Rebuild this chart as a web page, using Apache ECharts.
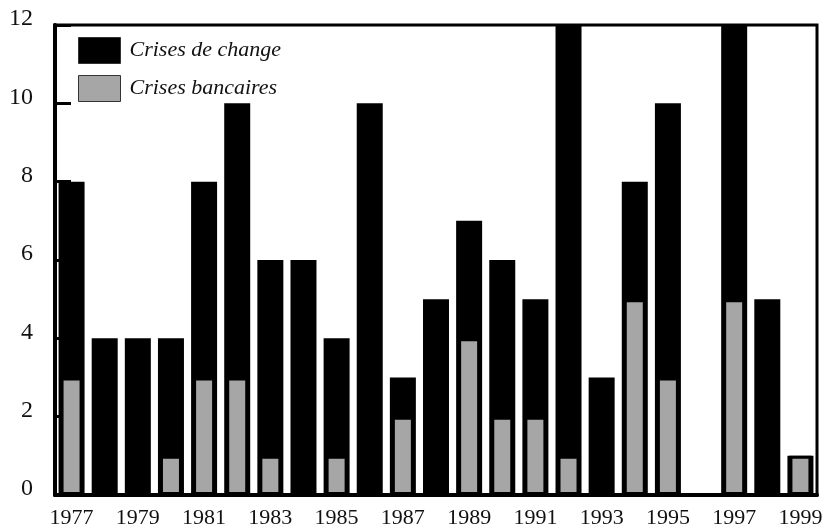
<!DOCTYPE html>
<html>
<head>
<meta charset="utf-8">
<script src="https://cdn.jsdelivr.net/npm/echarts@6/dist/echarts.min.js"></script>
<style>
  html, body { margin: 0; padding: 0; background: #fff; }
  #chart { width: 826px; height: 529px; }
</style>
</head>
<body>
<div id="chart"></div>
<script>
// années
const years = ['1977', '1978', '1979', '1980', '1981', '1982', '1983', '1984', '1985', '1986', '1987', '1988',
  '1989', '1990', '1991', '1992', '1993', '1994', '1995', '1996', '1997', '1998', '1999'];
// nombre total de crises (hauteur de la barre noire)
const crisesChange = [8, 4, 4, 4, 8, 10, 6, 6, 4, 10, 3, 5, 7, 6, 5, 12, 3, 8, 10, 0, 12, 5, 1];
// crises bancaires (barre grise)
const crisesBancaires = [3, 0, 0, 1, 3, 3, 1, 0, 1, 0, 2, 0, 4, 2, 2, 1, 0, 5, 3, 0, 5, 0, 1];
const yTicks = [0, 2, 4, 6, 8, 10, 12];

const serif = '"Liberation Serif", "DejaVu Serif", serif';
const chart = echarts.init(document.getElementById('chart'));

chart.setOption({
  animation: false,
  backgroundColor: '#fff',
  grid: {
    left: 55, right: 9, top: 25, bottom: 33,
    show: true,
    borderColor: '#000',
    borderWidth: 3
  },
  legend: {
    orient: 'vertical',
    left: 73,
    top: 32,
    icon: 'rect',
    itemWidth: 42,
    itemHeight: 26,
    itemGap: 11,
    itemStyle: { borderWidth: 1, borderColor: '#333' },
    textStyle: { fontFamily: serif, fontStyle: 'italic', fontSize: 22, color: '#111', padding: [0, 0, 0, 4] },
    data: ['Crises de change', 'Crises bancaires']
  },
  xAxis: [
    {
      type: 'category',
      data: years,
      axisLine: { lineStyle: { color: '#000', width: 4 } },
      axisTick: { show: false },
      axisLabel: { interval: 1, fontFamily: serif, fontSize: 22, color: '#111', margin: 12 }
    },
    {
      type: 'category',
      data: years,
      show: false,
      position: 'bottom'
    }
  ],
  yAxis: {
    type: 'value',
    min: yTicks[0],
    max: yTicks[yTicks.length - 1],
    interval: 2,
    axisLine: { show: true, lineStyle: { color: '#000', width: 4 } },
    axisTick: { show: true, inside: true, length: 16, lineStyle: { color: '#000', width: 3 } },
    axisLabel: { fontFamily: serif, fontSize: 24, color: '#111', margin: 22, verticalAlign: 'bottom', lineHeight: 12 },
    splitLine: { show: false }
  },
  series: [
    {
      name: 'Crises de change',
      type: 'bar',
      xAxisIndex: 0,
      barWidth: 26,
      itemStyle: { color: '#000' },
      data: crisesChange
    },
    {
      name: 'Crises bancaires',
      type: 'bar',
      xAxisIndex: 1,
      barWidth: 22,
      z: 3,
      itemStyle: { color: '#a6a6a6', borderColor: '#000', borderWidth: 3 },
      data: crisesBancaires
    }
  ]
});
</script>
</body>
</html>
